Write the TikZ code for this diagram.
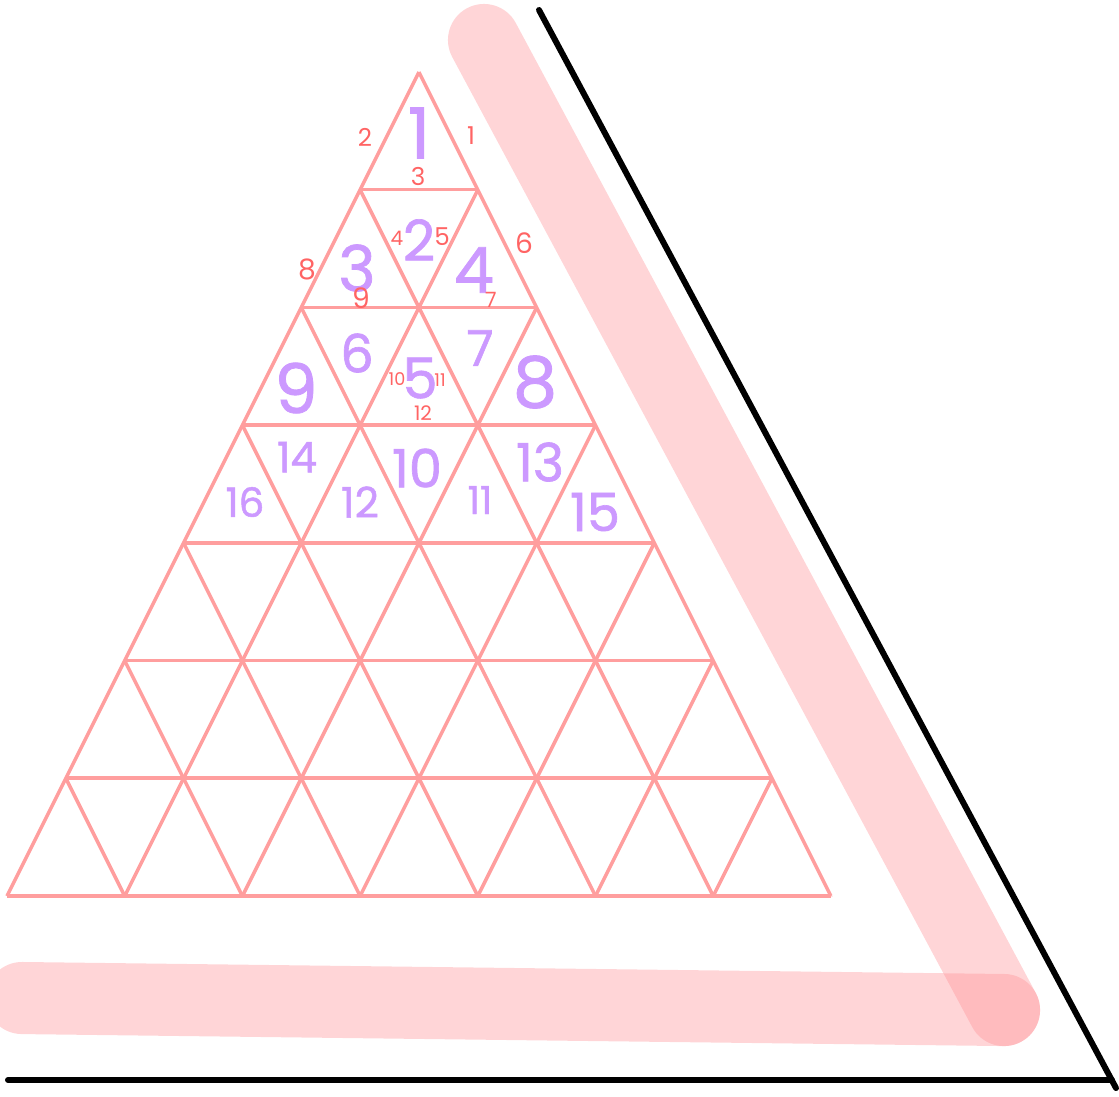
\documentclass[tikz,border=0pt]{standalone}
\usepackage{fontspec}
\setmainfont{Poppins}
\newfontfamily\handfont{Poppins}[FakeBold=1.2]

\definecolor{gridpink}{RGB}{255,158,158}
\definecolor{numpurple}{RGB}{204,153,255}
\definecolor{edgered}{RGB}{255,100,100}
\definecolor{markpink}{RGB}{255,144,150}

\tikzset{
  piece/.style={text=numpurple, inner sep=0pt, font=\handfont\fontsize{#1pt}{#1pt}\selectfont},
  side/.style={text=edgered, inner sep=0pt, font=\fontsize{#1pt}{#1pt}\selectfont},
  hilite/.style={line width=20.5pt, draw=markpink, opacity=0.38, line cap=round}
}

\begin{document}
\begin{tikzpicture}[x=0.01cm,y=-0.01cm]

\useasboundingbox (0,0) rectangle (1119,1096);

% Triangle grid
\begin{scope}[gridpink, line width=1pt, line join=round]
\foreach \k in {1,...,7}{
    \draw ({419-58.85*\k},{72+117.7*\k}) -- ({419+58.85*\k},{72+117.7*\k});
}
\foreach \j in {0,...,7}{
    \draw ({7+117.7*\j},896) -- ({419+58.85*\j},{72+117.7*\j});
    \draw ({7+117.7*\j},896) -- ({7+58.85*\j},{896-117.7*\j});
}
\end{scope}

% Highlighter strokes
\draw[hilite] (484,40) -- (1004,1010);
\draw[hilite] (22,998) -- (1004,1010);

% Outer corner
\draw[line width=1.7pt, line cap=round] (539,10) -- (1116,1088);
\draw[line width=1.7pt, line cap=round] (8,1080) -- (1112,1080);

% Piece numbers
\node[piece=20] (p1) at (419,133) {1};
\node[piece=16] (p2) at (419,240) {2};
\node[piece=18] (p3) at (357,268) {3};
\node[piece=18] (p4) at (474,270) {4};
\node[piece=16] (p5) at (420,378) {5};
\node[piece=15] (p6) at (357,353) {6};
\node[piece=14] (p7) at (480,348) {7};
\node[piece=20] (p8) at (535,382) {8};
\node[piece=19.5] (p9) at (296,388) {9};
\node[piece=15] (p10) at (417,468) {10};
\node[piece=11] (p11) at (480,500) {11};
\node[piece=12] (p12) at (360,502) {12};
\node[piece=15] (p13) at (540,462) {13};
\node[piece=12] (p14) at (297,457) {14};
\node[piece=15] (p15) at (595,512) {15};
\node[piece=11.5] (p16) at (245,502) {16};

% Edge numbers
\node[side=7] (e1) at (471,136) {1};
\node[side=7] (e2) at (365,137) {2};
\node[side=7] (e3) at (418,176) {3};
\node[side=5.7] (e4) at (397,238) {4};
\node[side=7] (e5) at (442,237) {5};
\node[side=8] (e6) at (524,243) {6};
\node[side=6] (e7) at (491,300) {7};
\node[side=8] (e8) at (307,269) {8};
\node[side=8] (e9) at (361,298) {9};
\node[side=5] (e10) at (397,379) {10};
\node[side=5] (e11) at (440,380) {11};
\node[side=5.7] (e12) at (423,413) {12};

\end{tikzpicture}
\end{document}
